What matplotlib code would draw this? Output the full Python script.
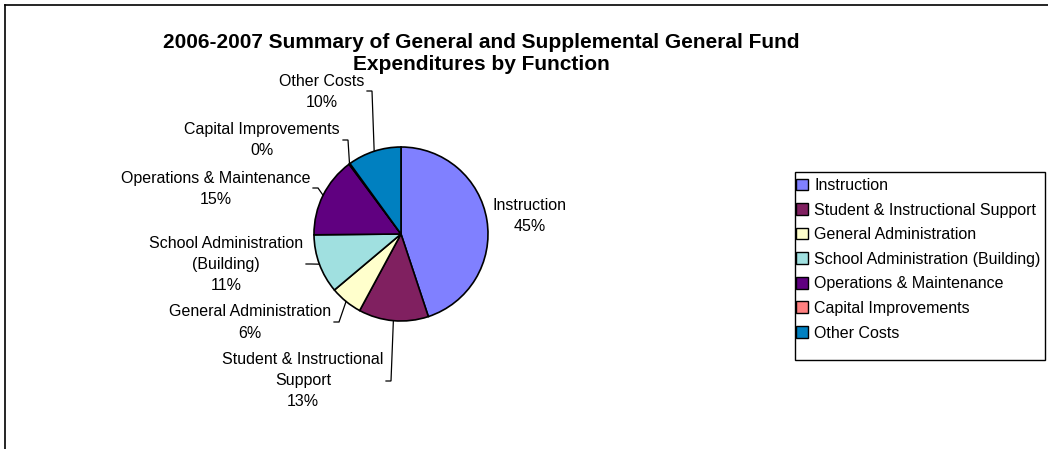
import matplotlib
matplotlib.use("Agg")
import matplotlib.pyplot as plt
from matplotlib.patches import Patch, Rectangle
from matplotlib.lines import Line2D
import numpy as np

plt.rcParams['font.family'] = ['Liberation Sans', 'DejaVu Sans']

categories = ["Instruction", "Student & Instructional Support", "General Administration",
              "School Administration (Building)", "Operations & Maintenance",
              "Capital Improvements", "Other Costs"]
values = [45.0, 13.0, 6.0, 11.0, 15.0, 0.2, 10.0]
label_texts = ["Instruction", "Student & Instructional\nSupport", "General Administration",
               "School Administration\n(Building)", "Operations & Maintenance",
               "Capital Improvements", "Other Costs"]
colors = ["#8080FF", "#802060", "#FFFFCC", "#A0E0E0", "#600080", "#FF8080", "#0080C0"]
title = "2006-2007 Summary of General and Supplemental General Fund\nExpenditures by Function"

W, H = 1048, 449
fig = plt.figure(figsize=(W / 100, H / 100), dpi=100)
ax = fig.add_axes([0, 0, 1, 1])

def P(x, y):
    return x, H - y

cx, cy = P(401, 234)
R = 87
wedges, _ = ax.pie(values, colors=colors, startangle=90, counterclock=False,
                   center=(cx, cy), radius=R,
                   wedgeprops=dict(edgecolor="black", linewidth=1.2))
ax.set_xlim(0, W)
ax.set_ylim(0, H)
ax.set_aspect("equal")
ax.axis("off")

FS = 11.5
total = sum(values)
pcts = [f"{round(v / total * 100):d}%" for v in values]

# label text centers (pixels) and leader anchors (pixels) -- layout only
label_pos = [(530, 216), (303, 381), (250, 322.5), (226, 264), (216, 188.5), (262, 140), (322, 92)]
anchors = [None, (386, 381), (334, 322), (306, 264), (313, 188), (343, 140), (367, 91)]

for i, w in enumerate(wedges):
    lx, ly = P(*label_pos[i])
    ax.text(lx, ly, label_texts[i] + "\n" + pcts[i], ha="center", va="center",
            fontsize=FS, linespacing=1.5, color="black")
    if anchors[i] is not None:
        mid = np.deg2rad((w.theta1 + w.theta2) / 2)
        ex, ey = cx + R * np.cos(mid), cy + R * np.sin(mid)
        axx, ayy = P(*anchors[i])
        elx = axx + 5
        ax.plot([axx, elx, ex], [ayy, ayy, ey], color="black", lw=0.9,
                solid_joinstyle="miter")

tx, ty = P(481, 53.5)
ax.text(tx, ty, title, ha="center", va="center", fontsize=15, fontweight="bold",
        linespacing=1.25)

# outer chart border (top and left visible)
fig.add_artist(Line2D([5 / W, 1], [1 - 5 / H, 1 - 5 / H], color="black", lw=1.2,
                      transform=fig.transFigure))
fig.add_artist(Line2D([5 / W, 5 / W], [1 - 5 / H, 0], color="black", lw=1.2,
                      transform=fig.transFigure))

# legend frame
fig.add_artist(Rectangle((795 / W, 1 - 360 / H), 250 / W, 188 / H, fill=False,
                         edgecolor="black", lw=1.0, transform=fig.transFigure))

handles = [Patch(facecolor=c, edgecolor="black", linewidth=1.0) for c in colors]
leg = ax.legend(handles, categories, loc="upper left",
                bbox_to_anchor=(796 / W, 1 - 178 / H), bbox_transform=fig.transFigure,
                fontsize=FS, frameon=False,
                borderpad=0.0, handlelength=0.75, handleheight=0.75, handletextpad=0.4,
                labelspacing=0.6, borderaxespad=0)

fig.savefig("out.png", dpi=100)
